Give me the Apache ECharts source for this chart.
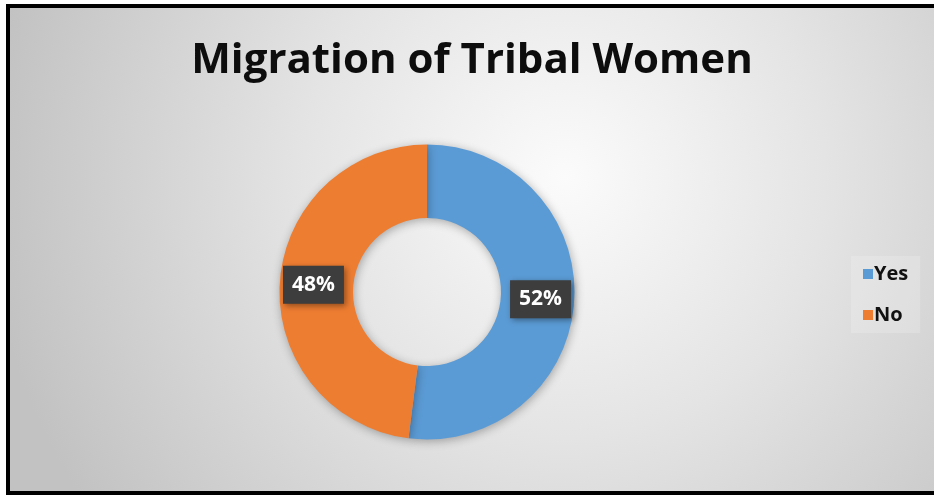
<!DOCTYPE html>
<html><head><meta charset="utf-8">
<script src="https://cdn.jsdelivr.net/npm/echarts@6/dist/echarts.min.js"></script>
<style>
html,body{margin:0;padding:0;background:#fff;width:934px;height:495px;overflow:hidden;}
#frame{position:absolute;left:6px;top:4px;width:940px;height:483px;border:4px solid #000;border-right:none;}
#c{position:absolute;left:10px;top:8px;width:924px;height:483px;}
</style></head>
<body>
<div id="frame"></div>
<div id="c"></div>
<script>
const titleText = 'Migration of Tribal Women';
const categories = ['Yes', 'No'];
const values = [52, 48];
const colors = ['#5B9BD5', '#ED7D31'];

const chart = echarts.init(document.getElementById('c'));
chart.setOption({
  backgroundColor: {
    type: 'radial', x: 0.6, y: 0.35, r: 1.2,
    colorStops: [
      {offset: 0, color: '#fbfbfb'},
      {offset: 0.45, color: '#e4e4e4'},
      {offset: 1, color: '#c2c2c2'}
    ]
  },
  color: colors,
  title: {
    text: titleText, left: 'center', top: 27,
    textStyle: {fontFamily: 'Open Sans', fontWeight: 'bold', fontSize: 42, color: '#0d0d0d'}
  },
  legend: {
    data: categories, orient: 'vertical', left: 841, top: 248,
    itemWidth: 10, itemHeight: 10, itemGap: 21, icon: 'rect',
    backgroundColor: 'rgba(255,255,255,0.18)', padding: [8, 12, 8, 12],
    textStyle: {fontFamily: 'Open Sans', fontSize: 20, fontWeight: 'bold', color: '#111', padding: [0,0,0,-4]}
  },
  series: [{
    type: 'pie', center: [417, 284], radius: [74, 147.5],
    startAngle: 90, clockwise: true, avoidLabelOverlap: false,
    itemStyle: {shadowBlur: 10, shadowColor: 'rgba(0,0,0,0.3)', shadowOffsetX: 1, shadowOffsetY: 2},
    label: {
      show: true, position: 'inside', formatter: '{d}%',
      color: '#fff', fontFamily: 'Open Sans', fontWeight: 'bold', fontSize: 21,
      backgroundColor: '#3d3d3d', padding: [9, 9, 8, 9],
      shadowBlur: 6, shadowColor: 'rgba(0,0,0,0.4)', shadowOffsetX: 2, shadowOffsetY: 2
    },
    labelLine: {show: false},
    emphasis: {disabled: true},
    data: categories.map((n, i) => ({name: n, value: values[i]}))
  }]
});
</script>
</body></html>
